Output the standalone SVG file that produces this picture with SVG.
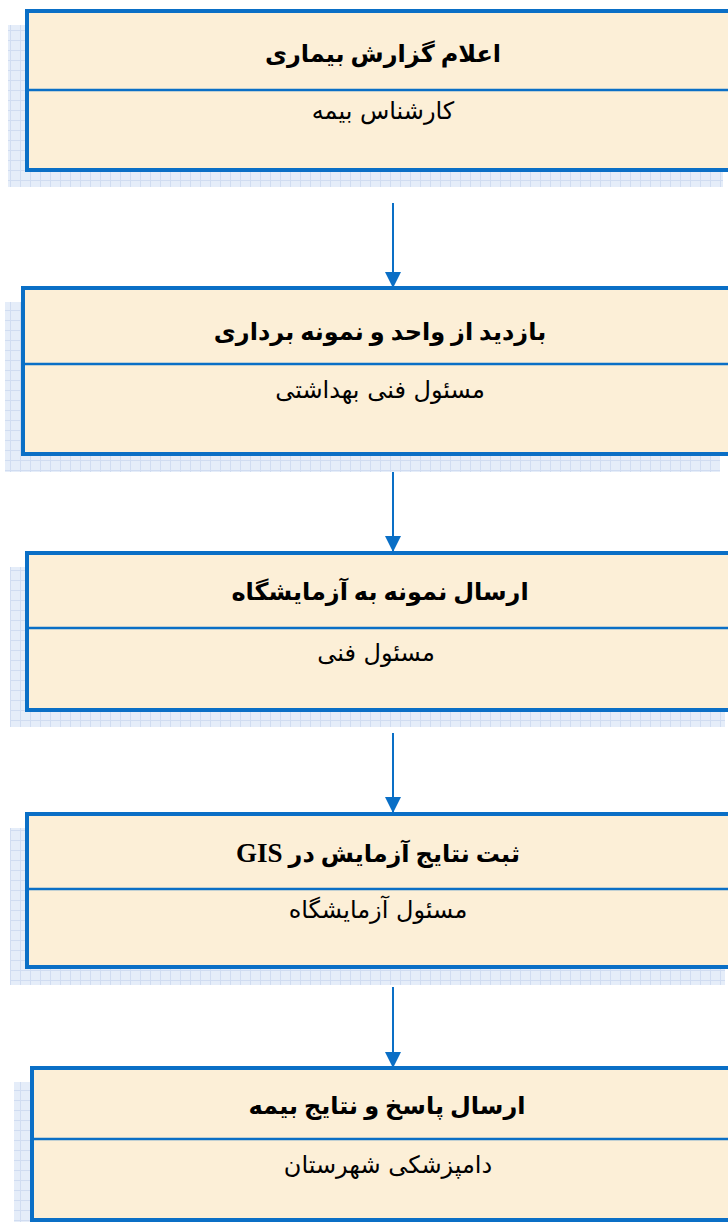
<svg xmlns="http://www.w3.org/2000/svg" width="728" height="1222" viewBox="0 0 728 1222">
<defs>
<pattern id="grid" width="10" height="10" patternUnits="userSpaceOnUse">
<rect width="10" height="10" fill="#E5EDF9"/>
<path d="M0 0.5H10M0.5 0V10" stroke="#D0DCF1" stroke-width="1"/>
</pattern>
<marker id="arr" viewBox="0 0 16 16" refX="15" refY="8" markerWidth="16" markerHeight="16" markerUnits="userSpaceOnUse" orient="auto">
<path d="M0 0L16 8L0 16Z" fill="#0A6FC6"/>
</marker>
<style>
.shadow{fill:url(#grid);}
.box{fill:#FCEFD7;stroke:#0A6FC6;stroke-width:4;}
.div{stroke:#0A6FC6;stroke-width:2.5;}
.title{font-family:"Liberation Serif","DejaVu Sans",serif;font-weight:bold;font-size:24px;fill:#000;text-anchor:middle;}
.gis{font-size:27px;}
.sub{font-family:"DejaVu Sans",sans-serif;font-size:24px;fill:#000;text-anchor:middle;}
.conn{stroke:#0A6FC6;stroke-width:2;fill:none;marker-end:url(#arr);}
</style>
</defs>
<g id="connectors">
<line class="conn" x1="393" y1="203" x2="393" y2="287"/>
<line class="conn" x1="393" y1="465" x2="393" y2="551"/>
<line class="conn" x1="393" y1="733" x2="393" y2="812"/>
<line class="conn" x1="393" y1="987" x2="393" y2="1067"/>
</g>
<g id="node1">
<rect class="shadow" x="8" y="25" width="715" height="162"/>
<rect class="box" x="27" y="11" width="720" height="159"/>
<line class="div" x1="27" y1="90" x2="728" y2="90"/>
<text class="title" x="383" y="62" direction="rtl">اعلام گزارش بیماری</text>
<text class="sub" x="383" y="119" direction="rtl">کارشناس بیمه</text>
</g>
<g id="node2">
<rect class="shadow" x="5" y="302" width="715" height="170"/>
<rect class="box" x="23" y="288" width="724" height="166"/>
<line class="div" x1="23" y1="364" x2="728" y2="364"/>
<text class="title" x="380" y="340" direction="rtl">بازدید از واحد و نمونه برداری</text>
<text class="sub" x="380" y="398" direction="rtl">مسئول فنی بهداشتی</text>
</g>
<g id="node3">
<rect class="shadow" x="10" y="567" width="715" height="160"/>
<rect class="box" x="27" y="553" width="720" height="157"/>
<line class="div" x1="27" y1="628" x2="728" y2="628"/>
<text class="title" x="380" y="600" direction="rtl">ارسال نمونه به آزمایشگاه</text>
<text class="sub" x="376" y="661" direction="rtl">مسئول فنی</text>
</g>
<g id="node4">
<rect class="shadow" x="10" y="828" width="715" height="157"/>
<rect class="box" x="27" y="814" width="720" height="153"/>
<line class="div" x1="27" y1="889" x2="728" y2="889"/>
<text class="title" x="378" y="862" direction="rtl">ثبت نتایج آزمایش در <tspan class="gis">GIS</tspan></text>
<text class="sub" x="378" y="918" direction="rtl">مسئول آزمایشگاه</text>
</g>
<g id="node5">
<rect class="shadow" x="14" y="1082" width="715" height="160"/>
<rect class="box" x="32" y="1068" width="720" height="152"/>
<line class="div" x1="32" y1="1139" x2="728" y2="1139"/>
<text class="title" x="387" y="1114" direction="rtl">ارسال پاسخ و نتایج بیمه</text>
<text class="sub" x="388" y="1173" direction="rtl">دامپزشکی شهرستان</text>
</g>
</svg>
